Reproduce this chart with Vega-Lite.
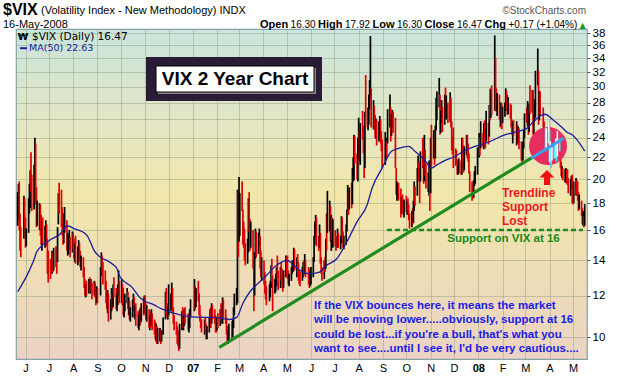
{
"$schema":"https://vega.github.io/schema/vega-lite/v6.json",
"width":571,"height":330,
"autosize":{"type":"none"},
"padding":{"left":16,"top":29,"right":33,"bottom":17},
"background":"white",
"config":{"font":"Liberation Sans","axis":{"title":null},
"view":{"stroke":"#86a2a6","strokeWidth":1.2,"fill":{"gradient":"linear","x1":0,"y1":0,"x2":0,"y2":1,"stops":[{"offset":0,"color":"#c9e5dd"},{"offset":0.28,"color":"#e3e6c4"},{"offset":0.5,"color":"#f2e7aa"},{"offset":0.75,"color":"#eedcb6"},{"offset":1,"color":"#ebd3c4"}]}}},
"datasets":{
"bars":[
{"d":"2006-05-22","h":18.9,"l":16.3,"c":17.6},{"d":"2006-05-23","h":19.6,"l":16.7,"c":18.6},{"d":"2006-05-24","h":19.8,"l":16.0,"c":16.4},{"d":"2006-05-25","h":17.2,"l":14.6,"c":15.2},{"d":"2006-05-26","h":16.2,"l":14.2,"c":14.5},{"d":"2006-05-30","h":18.6,"l":15.4,"c":18.1},{"d":"2006-05-31","h":18.4,"l":16.2,"c":16.4},
{"d":"2006-06-01","h":16.9,"l":14.8,"c":15.2},{"d":"2006-06-02","h":16.1,"l":14.9,"c":15.9},{"d":"2006-06-05","h":18.4,"l":15.8,"c":17.9},{"d":"2006-06-06","h":19.6,"l":17.2,"c":18.4},{"d":"2006-06-07","h":20.8,"l":17.6,"c":20.1},{"d":"2006-06-08","h":22.5,"l":18.9,"c":19.3},{"d":"2006-06-09","h":20.4,"l":17.4,"c":17.8},{"d":"2006-06-12","h":21.3,"l":17.5,"c":21.1},{"d":"2006-06-13","h":24.0,"l":20.2,"c":23.1},{"d":"2006-06-14","h":23.4,"l":17.9,"c":18.9},{"d":"2006-06-15","h":19.3,"l":16.2,"c":16.6},{"d":"2006-06-16","h":18.2,"l":16.3,"c":17.3},{"d":"2006-06-19","h":18.0,"l":16.0,"c":17.6},{"d":"2006-06-20","h":17.9,"l":15.6,"c":16.0},{"d":"2006-06-21","h":17.1,"l":15.0,"c":15.4},{"d":"2006-06-22","h":16.7,"l":14.6,"c":16.2},{"d":"2006-06-23","h":16.9,"l":15.1,"c":15.6},{"d":"2006-06-26","h":16.3,"l":14.8,"c":15.9},{"d":"2006-06-27","h":16.7,"l":15.2,"c":16.5},{"d":"2006-06-28","h":16.4,"l":14.9,"c":15.1},{"d":"2006-06-29","h":15.4,"l":13.2,"c":13.3},{"d":"2006-06-30","h":14.6,"l":12.7,"c":13.1},
{"d":"2006-07-03","h":14.1,"l":12.9,"c":13.0},{"d":"2006-07-05","h":14.6,"l":13.2,"c":14.3},{"d":"2006-07-06","h":14.5,"l":13.3,"c":13.8},{"d":"2006-07-07","h":14.8,"l":13.4,"c":14.6},{"d":"2006-07-10","h":14.9,"l":13.6,"c":14.0},{"d":"2006-07-11","h":14.6,"l":13.2,"c":13.7},{"d":"2006-07-12","h":16.2,"l":13.9,"c":15.9},{"d":"2006-07-13","h":18.8,"l":16.4,"c":18.1},{"d":"2006-07-14","h":19.7,"l":17.2,"c":17.5},{"d":"2006-07-17","h":19.1,"l":16.2,"c":16.5},{"d":"2006-07-18","h":17.7,"l":15.6,"c":16.4},{"d":"2006-07-19","h":16.8,"l":15.0,"c":15.4},{"d":"2006-07-20","h":17.2,"l":15.1,"c":16.8},{"d":"2006-07-21","h":17.7,"l":15.8,"c":17.2},{"d":"2006-07-24","h":16.7,"l":14.6,"c":14.9},{"d":"2006-07-25","h":15.8,"l":14.3,"c":15.1},{"d":"2006-07-26","h":15.6,"l":14.4,"c":15.2},{"d":"2006-07-27","h":16.0,"l":14.7,"c":15.7},{"d":"2006-07-28","h":15.5,"l":14.2,"c":14.4},{"d":"2006-07-31","h":15.9,"l":14.5,"c":15.3},
{"d":"2006-08-01","h":15.8,"l":14.7,"c":15.0},{"d":"2006-08-02","h":15.4,"l":14.1,"c":14.3},{"d":"2006-08-03","h":15.1,"l":13.9,"c":14.7},{"d":"2006-08-04","h":15.6,"l":13.8,"c":14.0},{"d":"2006-08-07","h":14.9,"l":13.7,"c":14.6},{"d":"2006-08-08","h":15.3,"l":14.0,"c":14.9},{"d":"2006-08-09","h":15.1,"l":13.9,"c":14.2},{"d":"2006-08-10","h":14.6,"l":13.6,"c":13.8},{"d":"2006-08-11","h":14.3,"l":13.4,"c":14.0},{"d":"2006-08-14","h":14.2,"l":13.0,"c":13.2},{"d":"2006-08-15","h":13.6,"l":12.4,"c":12.6},{"d":"2006-08-16","h":12.9,"l":12.0,"c":12.2},{"d":"2006-08-17","h":12.6,"l":11.9,"c":12.4},{"d":"2006-08-18","h":12.8,"l":12.0,"c":12.1},{"d":"2006-08-21","h":12.9,"l":12.1,"c":12.7},{"d":"2006-08-22","h":13.0,"l":12.3,"c":12.5},{"d":"2006-08-23","h":12.9,"l":12.1,"c":12.8},{"d":"2006-08-24","h":12.9,"l":12.2,"c":12.3},{"d":"2006-08-25","h":12.7,"l":11.8,"c":12.0},{"d":"2006-08-28","h":12.8,"l":12.0,"c":12.6},{"d":"2006-08-29","h":12.7,"l":11.9,"c":12.1},{"d":"2006-08-30","h":12.3,"l":11.5,"c":11.7},{"d":"2006-08-31","h":12.5,"l":11.6,"c":12.3},
{"d":"2006-09-01","h":12.4,"l":11.6,"c":11.9},{"d":"2006-09-05","h":13.6,"l":12.0,"c":13.4},{"d":"2006-09-06","h":14.5,"l":13.1,"c":14.2},{"d":"2006-09-07","h":14.3,"l":13.2,"c":13.6},{"d":"2006-09-08","h":13.9,"l":12.6,"c":12.8},{"d":"2006-09-11","h":13.4,"l":12.3,"c":12.5},{"d":"2006-09-12","h":12.8,"l":11.6,"c":11.8},{"d":"2006-09-13","h":12.2,"l":11.3,"c":11.5},{"d":"2006-09-14","h":12.3,"l":11.1,"c":12.0},{"d":"2006-09-15","h":12.1,"l":10.7,"c":11.0},{"d":"2006-09-18","h":11.8,"l":10.8,"c":11.6},{"d":"2006-09-19","h":12.4,"l":11.2,"c":12.2},{"d":"2006-09-20","h":12.1,"l":11.3,"c":11.4},{"d":"2006-09-21","h":12.6,"l":11.4,"c":12.5},{"d":"2006-09-22","h":13.0,"l":11.9,"c":12.2},{"d":"2006-09-25","h":12.4,"l":11.3,"c":11.5},{"d":"2006-09-26","h":12.1,"l":11.2,"c":11.9},{"d":"2006-09-27","h":12.6,"l":11.5,"c":12.3},{"d":"2006-09-28","h":13.4,"l":12.0,"c":12.5},{"d":"2006-09-29","h":12.8,"l":11.6,"c":11.8},
{"d":"2006-10-02","h":12.9,"l":11.6,"c":12.7},{"d":"2006-10-03","h":12.6,"l":11.5,"c":11.7},{"d":"2006-10-04","h":12.4,"l":11.0,"c":11.2},{"d":"2006-10-05","h":11.6,"l":10.9,"c":11.4},{"d":"2006-10-06","h":12.1,"l":11.2,"c":11.9},{"d":"2006-10-09","h":12.4,"l":11.6,"c":12.0},{"d":"2006-10-10","h":12.2,"l":11.3,"c":11.5},{"d":"2006-10-11","h":11.9,"l":11.0,"c":11.8},{"d":"2006-10-12","h":11.7,"l":10.8,"c":11.0},{"d":"2006-10-13","h":11.4,"l":10.7,"c":11.1},{"d":"2006-10-16","h":11.8,"l":10.9,"c":11.6},{"d":"2006-10-17","h":12.1,"l":11.2,"c":11.9},{"d":"2006-10-18","h":11.9,"l":10.9,"c":11.2},{"d":"2006-10-19","h":11.5,"l":10.8,"c":11.3},{"d":"2006-10-20","h":11.6,"l":10.5,"c":10.9},{"d":"2006-10-23","h":11.2,"l":10.4,"c":10.6},{"d":"2006-10-24","h":11.0,"l":10.3,"c":10.8},{"d":"2006-10-25","h":11.3,"l":10.5,"c":11.1},{"d":"2006-10-26","h":11.4,"l":10.6,"c":10.8},{"d":"2006-10-27","h":11.6,"l":10.7,"c":11.5},{"d":"2006-10-30","h":11.9,"l":11.0,"c":11.3},{"d":"2006-10-31","h":12.0,"l":11.1,"c":11.6},
{"d":"2006-11-01","h":12.0,"l":11.0,"c":11.3},{"d":"2006-11-02","h":11.6,"l":10.8,"c":11.0},{"d":"2006-11-03","h":11.5,"l":10.7,"c":11.4},{"d":"2006-11-06","h":11.3,"l":10.4,"c":10.6},{"d":"2006-11-07","h":11.0,"l":10.3,"c":10.9},{"d":"2006-11-08","h":11.2,"l":10.4,"c":10.5},{"d":"2006-11-09","h":11.3,"l":10.5,"c":11.1},{"d":"2006-11-10","h":11.1,"l":10.3,"c":10.4},{"d":"2006-11-13","h":10.8,"l":10.1,"c":10.3},{"d":"2006-11-14","h":10.7,"l":9.9,"c":10.0},{"d":"2006-11-15","h":10.6,"l":9.8,"c":10.2},{"d":"2006-11-16","h":10.5,"l":9.7,"c":9.9},{"d":"2006-11-17","h":10.4,"l":9.7,"c":10.0},{"d":"2006-11-20","h":10.4,"l":9.8,"c":10.1},{"d":"2006-11-21","h":10.3,"l":9.7,"c":9.9},{"d":"2006-11-22","h":10.3,"l":9.8,"c":10.2},{"d":"2006-11-24","h":10.9,"l":10.1,"c":10.7},{"d":"2006-11-27","h":12.2,"l":10.8,"c":12.0},{"d":"2006-11-28","h":12.4,"l":11.0,"c":11.3},{"d":"2006-11-29","h":11.6,"l":10.9,"c":11.0},{"d":"2006-11-30","h":11.4,"l":10.8,"c":11.0},
{"d":"2006-12-01","h":12.6,"l":11.0,"c":11.7},{"d":"2006-12-04","h":12.1,"l":11.2,"c":11.9},{"d":"2006-12-05","h":12.7,"l":11.3,"c":12.2},{"d":"2006-12-06","h":12.4,"l":11.1,"c":11.3},{"d":"2006-12-07","h":11.4,"l":10.6,"c":10.8},{"d":"2006-12-08","h":11.0,"l":10.3,"c":10.5},{"d":"2006-12-11","h":10.7,"l":10.1,"c":10.3},{"d":"2006-12-12","h":10.5,"l":9.7,"c":10.0},{"d":"2006-12-13","h":10.3,"l":9.6,"c":9.8},{"d":"2006-12-14","h":10.0,"l":9.4,"c":9.6},{"d":"2006-12-15","h":10.6,"l":9.5,"c":10.4},{"d":"2006-12-18","h":11.2,"l":10.3,"c":11.0},{"d":"2006-12-19","h":11.4,"l":10.4,"c":10.6},{"d":"2006-12-20","h":11.0,"l":10.3,"c":10.8},{"d":"2006-12-21","h":11.3,"l":10.5,"c":11.1},{"d":"2006-12-22","h":11.4,"l":10.6,"c":10.9},{"d":"2006-12-26","h":11.1,"l":10.3,"c":10.5},{"d":"2006-12-27","h":10.9,"l":10.2,"c":10.7},{"d":"2006-12-28","h":11.3,"l":10.4,"c":11.2},{"d":"2006-12-29","h":11.8,"l":10.9,"c":11.6},
{"d":"2007-01-03","h":12.9,"l":11.2,"c":12.0},{"d":"2007-01-04","h":12.5,"l":11.3,"c":11.5},{"d":"2007-01-05","h":12.4,"l":11.4,"c":12.1},{"d":"2007-01-08","h":12.8,"l":11.7,"c":12.0},{"d":"2007-01-09","h":12.1,"l":11.0,"c":11.3},{"d":"2007-01-10","h":11.5,"l":10.7,"c":10.9},{"d":"2007-01-11","h":11.0,"l":10.4,"c":10.6},{"d":"2007-01-12","h":10.8,"l":10.2,"c":10.4},{"d":"2007-01-16","h":10.8,"l":10.1,"c":10.7},{"d":"2007-01-17","h":10.9,"l":10.2,"c":10.4},{"d":"2007-01-18","h":10.6,"l":9.9,"c":10.2},{"d":"2007-01-19","h":10.5,"l":9.9,"c":10.4},{"d":"2007-01-22","h":10.9,"l":10.2,"c":10.6},{"d":"2007-01-23","h":11.3,"l":10.5,"c":11.0},{"d":"2007-01-24","h":11.4,"l":10.4,"c":10.6},{"d":"2007-01-25","h":11.6,"l":10.6,"c":11.4},{"d":"2007-01-26","h":11.5,"l":10.8,"c":11.0},{"d":"2007-01-29","h":11.3,"l":10.6,"c":10.9},{"d":"2007-01-30","h":11.0,"l":10.2,"c":10.5},{"d":"2007-01-31","h":10.9,"l":10.2,"c":10.4},
{"d":"2007-02-01","h":10.9,"l":10.3,"c":10.8},{"d":"2007-02-02","h":11.1,"l":10.4,"c":10.6},{"d":"2007-02-05","h":11.3,"l":10.5,"c":11.1},{"d":"2007-02-06","h":11.6,"l":10.8,"c":11.0},{"d":"2007-02-07","h":11.4,"l":10.6,"c":10.7},{"d":"2007-02-08","h":11.9,"l":10.6,"c":11.6},{"d":"2007-02-09","h":11.8,"l":10.9,"c":11.1},{"d":"2007-02-12","h":11.3,"l":10.6,"c":10.8},{"d":"2007-02-13","h":10.9,"l":10.1,"c":10.3},{"d":"2007-02-14","h":10.5,"l":9.8,"c":10.0},{"d":"2007-02-15","h":10.3,"l":9.7,"c":10.1},{"d":"2007-02-16","h":10.6,"l":9.9,"c":10.4},{"d":"2007-02-20","h":10.7,"l":9.9,"c":10.2},{"d":"2007-02-21","h":10.8,"l":10.0,"c":10.6},{"d":"2007-02-22","h":11.4,"l":10.4,"c":11.2},{"d":"2007-02-23","h":12.1,"l":11.0,"c":11.9},{"d":"2007-02-26","h":12.4,"l":11.5,"c":12.0},{"d":"2007-02-27","h":19.1,"l":11.6,"c":18.3},{"d":"2007-02-28","h":18.9,"l":14.2,"c":15.4},
{"d":"2007-03-01","h":20.2,"l":15.2,"c":16.0},{"d":"2007-03-02","h":18.8,"l":15.6,"c":18.6},{"d":"2007-03-05","h":19.8,"l":17.4,"c":18.0},{"d":"2007-03-06","h":17.5,"l":15.0,"c":15.7},{"d":"2007-03-07","h":16.6,"l":14.8,"c":15.3},{"d":"2007-03-08","h":16.1,"l":14.0,"c":14.1},{"d":"2007-03-09","h":15.1,"l":13.7,"c":14.0},{"d":"2007-03-12","h":15.4,"l":13.8,"c":14.7},{"d":"2007-03-13","h":18.4,"l":14.5,"c":17.9},{"d":"2007-03-14","h":18.9,"l":15.9,"c":16.4},{"d":"2007-03-15","h":16.8,"l":14.6,"c":15.2},{"d":"2007-03-16","h":16.6,"l":14.8,"c":16.2},{"d":"2007-03-19","h":16.0,"l":13.5,"c":13.8},{"d":"2007-03-20","h":13.8,"l":11.2,"c":12.2},{"d":"2007-03-21","h":14.5,"l":12.0,"c":14.2},{"d":"2007-03-22","h":16.1,"l":14.1,"c":15.6},{"d":"2007-03-23","h":15.9,"l":14.2,"c":14.9},{"d":"2007-03-26","h":15.8,"l":14.4,"c":15.4},{"d":"2007-03-27","h":16.1,"l":14.9,"c":15.8},{"d":"2007-03-28","h":15.6,"l":13.5,"c":13.9},{"d":"2007-03-29","h":14.6,"l":13.0,"c":13.4},{"d":"2007-03-30","h":14.2,"l":12.8,"c":13.6},
{"d":"2007-04-02","h":14.0,"l":12.6,"c":12.8},{"d":"2007-04-03","h":13.3,"l":12.1,"c":12.4},{"d":"2007-04-04","h":12.8,"l":11.8,"c":12.0},{"d":"2007-04-05","h":12.5,"l":11.5,"c":11.9},{"d":"2007-04-09","h":12.6,"l":11.7,"c":12.1},{"d":"2007-04-10","h":12.8,"l":11.9,"c":12.6},{"d":"2007-04-11","h":13.7,"l":12.4,"c":13.5},{"d":"2007-04-12","h":14.1,"l":12.7,"c":12.9},{"d":"2007-04-13","h":13.1,"l":11.2,"c":12.4},{"d":"2007-04-16","h":12.9,"l":12.1,"c":12.6},{"d":"2007-04-17","h":13.2,"l":12.2,"c":12.9},{"d":"2007-04-18","h":13.6,"l":12.5,"c":13.3},{"d":"2007-04-19","h":14.3,"l":13.0,"c":13.2},{"d":"2007-04-20","h":13.4,"l":12.3,"c":12.5},{"d":"2007-04-23","h":13.6,"l":12.4,"c":13.4},{"d":"2007-04-24","h":13.9,"l":12.8,"c":13.1},{"d":"2007-04-25","h":13.5,"l":12.4,"c":12.7},{"d":"2007-04-26","h":13.2,"l":12.2,"c":12.5},{"d":"2007-04-27","h":13.4,"l":12.4,"c":13.2},{"d":"2007-04-30","h":14.3,"l":13.0,"c":14.2},
{"d":"2007-05-01","h":14.2,"l":13.0,"c":13.9},{"d":"2007-05-02","h":14.3,"l":12.9,"c":13.1},{"d":"2007-05-03","h":13.4,"l":12.6,"c":12.9},{"d":"2007-05-04","h":13.2,"l":12.5,"c":12.9},{"d":"2007-05-07","h":13.6,"l":12.8,"c":13.3},{"d":"2007-05-08","h":14.0,"l":13.2,"c":13.5},{"d":"2007-05-09","h":13.9,"l":13.3,"c":13.6},{"d":"2007-05-10","h":14.8,"l":13.4,"c":14.6},{"d":"2007-05-11","h":14.7,"l":13.4,"c":13.5},{"d":"2007-05-14","h":14.2,"l":13.0,"c":13.9},{"d":"2007-05-15","h":14.4,"l":13.3,"c":13.7},{"d":"2007-05-16","h":13.9,"l":12.8,"c":13.0},{"d":"2007-05-17","h":13.4,"l":12.6,"c":12.9},{"d":"2007-05-18","h":13.3,"l":12.5,"c":12.7},{"d":"2007-05-21","h":13.6,"l":12.8,"c":13.4},{"d":"2007-05-22","h":13.9,"l":13.0,"c":13.6},{"d":"2007-05-23","h":14.0,"l":13.1,"c":13.3},{"d":"2007-05-24","h":14.4,"l":13.2,"c":14.0},{"d":"2007-05-25","h":14.0,"l":13.0,"c":13.2},{"d":"2007-05-29","h":13.6,"l":12.6,"c":12.8},{"d":"2007-05-30","h":13.5,"l":12.4,"c":12.7},{"d":"2007-05-31","h":13.3,"l":12.5,"c":13.1},
{"d":"2007-06-01","h":13.6,"l":12.6,"c":13.1},{"d":"2007-06-04","h":14.2,"l":13.0,"c":13.9},{"d":"2007-06-05","h":15.6,"l":13.9,"c":15.4},{"d":"2007-06-06","h":16.6,"l":15.0,"c":16.4},{"d":"2007-06-07","h":17.1,"l":15.6,"c":16.8},{"d":"2007-06-08","h":16.9,"l":14.9,"c":15.2},{"d":"2007-06-11","h":15.6,"l":14.6,"c":15.0},{"d":"2007-06-12","h":16.4,"l":14.8,"c":16.0},{"d":"2007-06-13","h":15.8,"l":13.8,"c":14.0},{"d":"2007-06-14","h":14.2,"l":13.2,"c":13.4},{"d":"2007-06-15","h":13.6,"l":12.8,"c":13.0},{"d":"2007-06-18","h":14.0,"l":12.9,"c":13.7},{"d":"2007-06-19","h":14.2,"l":13.3,"c":13.5},{"d":"2007-06-20","h":15.4,"l":13.5,"c":15.2},{"d":"2007-06-21","h":17.2,"l":14.6,"c":15.0},{"d":"2007-06-22","h":19.0,"l":15.8,"c":16.7},{"d":"2007-06-25","h":18.2,"l":15.9,"c":17.5},{"d":"2007-06-26","h":17.8,"l":15.2,"c":15.6},{"d":"2007-06-27","h":17.1,"l":14.6,"c":16.9},{"d":"2007-06-28","h":16.9,"l":15.3,"c":15.6},{"d":"2007-06-29","h":16.8,"l":14.8,"c":16.2},
{"d":"2007-07-02","h":16.0,"l":14.9,"c":15.2},{"d":"2007-07-03","h":15.6,"l":14.6,"c":15.1},{"d":"2007-07-05","h":16.1,"l":14.8,"c":15.8},{"d":"2007-07-06","h":15.8,"l":14.8,"c":15.0},{"d":"2007-07-09","h":15.6,"l":14.7,"c":15.3},{"d":"2007-07-10","h":17.0,"l":15.1,"c":16.6},{"d":"2007-07-11","h":16.9,"l":15.4,"c":15.6},{"d":"2007-07-12","h":15.9,"l":14.8,"c":15.0},{"d":"2007-07-13","h":15.6,"l":14.7,"c":15.1},{"d":"2007-07-16","h":16.4,"l":15.0,"c":16.0},{"d":"2007-07-17","h":17.5,"l":15.9,"c":17.4},{"d":"2007-07-18","h":19.5,"l":17.4,"c":18.4},{"d":"2007-07-19","h":18.8,"l":17.1,"c":17.6},{"d":"2007-07-20","h":19.3,"l":17.5,"c":19.0},{"d":"2007-07-23","h":19.7,"l":17.6,"c":18.0},{"d":"2007-07-24","h":21.0,"l":17.9,"c":20.7},{"d":"2007-07-25","h":22.0,"l":19.8,"c":21.2},{"d":"2007-07-26","h":24.3,"l":19.9,"c":23.5},{"d":"2007-07-27","h":24.2,"l":21.4,"c":22.0},{"d":"2007-07-30","h":22.4,"l":20.0,"c":20.5},{"d":"2007-07-31","h":24.0,"l":19.8,"c":23.6},
{"d":"2007-08-01","h":26.2,"l":21.8,"c":23.7},{"d":"2007-08-02","h":24.8,"l":21.6,"c":22.1},{"d":"2007-08-03","h":25.6,"l":21.3,"c":25.2},{"d":"2007-08-06","h":27.0,"l":23.8,"c":24.2},{"d":"2007-08-07","h":25.3,"l":22.4,"c":23.4},{"d":"2007-08-08","h":23.6,"l":20.1,"c":20.8},{"d":"2007-08-09","h":26.9,"l":21.0,"c":26.5},{"d":"2007-08-10","h":31.6,"l":25.1,"c":25.6},{"d":"2007-08-13","h":27.4,"l":24.8,"c":25.9},{"d":"2007-08-14","h":29.0,"l":25.4,"c":28.6},{"d":"2007-08-15","h":30.9,"l":27.2,"c":29.0},{"d":"2007-08-16","h":37.5,"l":28.6,"c":30.7},{"d":"2007-08-17","h":29.8,"l":25.1,"c":25.5},{"d":"2007-08-20","h":28.3,"l":24.9,"c":27.0},{"d":"2007-08-21","h":27.6,"l":24.8,"c":25.1},{"d":"2007-08-22","h":26.5,"l":24.0,"c":24.4},{"d":"2007-08-23","h":26.1,"l":23.9,"c":25.6},{"d":"2007-08-24","h":25.9,"l":23.2,"c":23.8},{"d":"2007-08-27","h":25.8,"l":23.6,"c":25.0},{"d":"2007-08-28","h":26.4,"l":24.1,"c":26.2},{"d":"2007-08-29","h":26.0,"l":23.4,"c":23.6},{"d":"2007-08-30","h":24.7,"l":22.6,"c":23.5},{"d":"2007-08-31","h":23.8,"l":21.0,"c":21.4},
{"d":"2007-09-04","h":24.6,"l":21.3,"c":21.8},{"d":"2007-09-05","h":24.0,"l":21.7,"c":23.3},{"d":"2007-09-06","h":23.6,"l":21.9,"c":22.5},{"d":"2007-09-07","h":27.2,"l":23.4,"c":26.2},{"d":"2007-09-10","h":29.0,"l":25.1,"c":26.6},{"d":"2007-09-11","h":27.4,"l":23.6,"c":24.0},{"d":"2007-09-12","h":26.6,"l":24.2,"c":25.8},{"d":"2007-09-13","h":27.1,"l":25.0,"c":26.7},{"d":"2007-09-14","h":26.9,"l":24.5,"c":25.0},{"d":"2007-09-17","h":26.2,"l":21.0,"c":21.4},{"d":"2007-09-18","h":21.0,"l":18.7,"c":19.0},{"d":"2007-09-19","h":19.8,"l":18.2,"c":19.4},{"d":"2007-09-20","h":19.6,"l":18.3,"c":19.5},{"d":"2007-09-21","h":19.7,"l":18.2,"c":18.9},{"d":"2007-09-24","h":19.2,"l":16.9,"c":17.3},{"d":"2007-09-25","h":18.5,"l":17.2,"c":18.1},{"d":"2007-09-26","h":18.7,"l":17.3,"c":17.6},{"d":"2007-09-27","h":18.2,"l":17.1,"c":17.4},{"d":"2007-09-28","h":18.3,"l":16.9,"c":18.0},
{"d":"2007-10-01","h":18.6,"l":17.3,"c":17.5},{"d":"2007-10-02","h":18.2,"l":17.1,"c":17.9},{"d":"2007-10-03","h":18.4,"l":17.3,"c":17.8},{"d":"2007-10-04","h":17.9,"l":16.7,"c":16.9},{"d":"2007-10-05","h":17.2,"l":16.1,"c":16.5},{"d":"2007-10-08","h":17.4,"l":16.2,"c":17.1},{"d":"2007-10-09","h":17.6,"l":16.4,"c":16.6},{"d":"2007-10-10","h":18.2,"l":16.5,"c":17.9},{"d":"2007-10-11","h":19.8,"l":17.4,"c":19.2},{"d":"2007-10-12","h":19.4,"l":17.8,"c":18.6},{"d":"2007-10-15","h":21.0,"l":18.6,"c":20.6},{"d":"2007-10-16","h":22.2,"l":19.9,"c":21.4},{"d":"2007-10-17","h":21.6,"l":19.8,"c":20.2},{"d":"2007-10-18","h":21.0,"l":18.0,"c":18.8},{"d":"2007-10-19","h":22.6,"l":19.8,"c":22.3},{"d":"2007-10-22","h":24.0,"l":21.0,"c":21.6},{"d":"2007-10-23","h":22.4,"l":19.6,"c":20.0},{"d":"2007-10-24","h":24.3,"l":19.8,"c":21.2},{"d":"2007-10-25","h":22.8,"l":20.3,"c":21.0},{"d":"2007-10-26","h":21.4,"l":19.2,"c":19.6},{"d":"2007-10-29","h":20.6,"l":18.9,"c":19.8},{"d":"2007-10-30","h":21.7,"l":18.6,"c":20.9},{"d":"2007-10-31","h":21.0,"l":17.4,"c":18.5},
{"d":"2007-11-01","h":24.0,"l":18.8,"c":23.2},{"d":"2007-11-02","h":25.4,"l":21.0,"c":23.0},{"d":"2007-11-05","h":24.8,"l":21.9,"c":23.9},{"d":"2007-11-06","h":23.8,"l":21.3,"c":21.9},{"d":"2007-11-07","h":25.3,"l":21.9,"c":25.0},{"d":"2007-11-08","h":28.6,"l":24.8,"c":26.5},{"d":"2007-11-09","h":29.4,"l":25.9,"c":28.5},{"d":"2007-11-12","h":31.2,"l":27.4,"c":28.8},{"d":"2007-11-13","h":29.0,"l":24.3,"c":24.9},{"d":"2007-11-14","h":27.0,"l":24.5,"c":26.1},{"d":"2007-11-15","h":28.3,"l":25.6,"c":27.4},{"d":"2007-11-16","h":27.5,"l":24.6,"c":25.5},{"d":"2007-11-19","h":29.0,"l":25.4,"c":28.7},{"d":"2007-11-20","h":29.9,"l":26.2,"c":26.8},{"d":"2007-11-21","h":28.9,"l":26.0,"c":28.2},{"d":"2007-11-23","h":28.0,"l":25.6,"c":25.8},{"d":"2007-11-26","h":29.3,"l":25.7,"c":28.9},{"d":"2007-11-27","h":28.6,"l":25.1,"c":25.9},{"d":"2007-11-28","h":25.8,"l":22.7,"c":23.1},{"d":"2007-11-29","h":24.2,"l":22.3,"c":22.9},{"d":"2007-11-30","h":25.1,"l":21.0,"c":22.8},
{"d":"2007-12-03","h":22.9,"l":21.2,"c":22.6},{"d":"2007-12-04","h":22.7,"l":21.3,"c":21.6},{"d":"2007-12-05","h":21.8,"l":20.4,"c":20.6},{"d":"2007-12-06","h":21.2,"l":20.4,"c":20.9},{"d":"2007-12-07","h":21.9,"l":20.5,"c":21.4},{"d":"2007-12-10","h":21.7,"l":20.4,"c":20.6},{"d":"2007-12-11","h":24.0,"l":20.4,"c":23.9},{"d":"2007-12-12","h":24.0,"l":21.6,"c":22.0},{"d":"2007-12-13","h":23.2,"l":20.6,"c":21.0},{"d":"2007-12-14","h":23.1,"l":20.8,"c":22.9},{"d":"2007-12-17","h":24.3,"l":22.2,"c":24.1},{"d":"2007-12-18","h":24.3,"l":21.9,"c":22.6},{"d":"2007-12-19","h":23.4,"l":21.6,"c":22.0},{"d":"2007-12-20","h":22.4,"l":20.5,"c":20.7},{"d":"2007-12-21","h":20.7,"l":18.9,"c":19.0},{"d":"2007-12-24","h":19.8,"l":18.2,"c":18.5},{"d":"2007-12-26","h":19.9,"l":18.4,"c":19.6},{"d":"2007-12-27","h":20.7,"l":19.4,"c":20.3},{"d":"2007-12-28","h":21.2,"l":19.6,"c":20.7},{"d":"2007-12-31","h":23.0,"l":20.4,"c":22.5},
{"d":"2008-01-02","h":24.5,"l":22.0,"c":23.2},{"d":"2008-01-03","h":24.0,"l":22.2,"c":22.5},{"d":"2008-01-04","h":25.8,"l":22.9,"c":23.9},{"d":"2008-01-07","h":24.5,"l":23.0,"c":23.6},{"d":"2008-01-08","h":25.6,"l":22.8,"c":25.4},{"d":"2008-01-09","h":25.9,"l":23.2,"c":24.1},{"d":"2008-01-10","h":25.0,"l":22.9,"c":23.5},{"d":"2008-01-11","h":27.0,"l":23.6,"c":23.7},{"d":"2008-01-14","h":25.6,"l":23.3,"c":23.4},{"d":"2008-01-15","h":27.7,"l":24.1,"c":27.3},{"d":"2008-01-16","h":29.8,"l":25.9,"c":26.3},{"d":"2008-01-17","h":29.6,"l":26.2,"c":29.0},{"d":"2008-01-18","h":30.2,"l":26.5,"c":27.2},{"d":"2008-01-22","h":37.6,"l":27.0,"c":31.0},{"d":"2008-01-23","h":34.1,"l":27.0,"c":29.0},{"d":"2008-01-24","h":29.8,"l":26.9,"c":27.3},{"d":"2008-01-25","h":29.2,"l":26.4,"c":28.5},{"d":"2008-01-28","h":29.0,"l":26.0,"c":26.5},{"d":"2008-01-29","h":27.7,"l":25.1,"c":25.5},{"d":"2008-01-30","h":28.0,"l":25.3,"c":26.2},{"d":"2008-01-31","h":27.9,"l":24.9,"c":25.2},
{"d":"2008-02-01","h":27.5,"l":25.6,"c":26.9},{"d":"2008-02-04","h":28.0,"l":26.3,"c":27.6},{"d":"2008-02-05","h":29.8,"l":27.0,"c":28.9},{"d":"2008-02-06","h":29.5,"l":27.2,"c":28.4},{"d":"2008-02-07","h":29.0,"l":26.5,"c":27.0},{"d":"2008-02-08","h":28.7,"l":26.6,"c":28.0},{"d":"2008-02-11","h":27.9,"l":26.1,"c":26.4},{"d":"2008-02-12","h":27.7,"l":25.1,"c":25.5},{"d":"2008-02-13","h":26.0,"l":24.3,"c":24.6},{"d":"2008-02-14","h":25.8,"l":23.4,"c":25.5},{"d":"2008-02-15","h":25.9,"l":24.2,"c":25.0},{"d":"2008-02-19","h":25.8,"l":23.2,"c":25.3},{"d":"2008-02-20","h":25.4,"l":23.5,"c":24.0},{"d":"2008-02-21","h":25.2,"l":23.4,"c":24.9},{"d":"2008-02-22","h":25.0,"l":22.8,"c":23.0},{"d":"2008-02-25","h":23.6,"l":21.7,"c":22.0},{"d":"2008-02-26","h":23.1,"l":21.5,"c":21.9},{"d":"2008-02-27","h":23.6,"l":21.7,"c":23.2},{"d":"2008-02-28","h":24.8,"l":22.9,"c":24.6},{"d":"2008-02-29","h":26.7,"l":24.0,"c":26.5},
{"d":"2008-03-03","h":27.4,"l":25.6,"c":26.0},{"d":"2008-03-04","h":28.2,"l":25.2,"c":26.7},{"d":"2008-03-05","h":27.0,"l":24.3,"c":24.9},{"d":"2008-03-06","h":27.9,"l":24.6,"c":27.5},{"d":"2008-03-07","h":30.2,"l":26.6,"c":27.3},{"d":"2008-03-10","h":29.6,"l":26.8,"c":29.4},{"d":"2008-03-11","h":29.6,"l":24.3,"c":25.0},{"d":"2008-03-12","h":26.6,"l":24.4,"c":26.0},{"d":"2008-03-13","h":28.4,"l":25.8,"c":26.8},{"d":"2008-03-14","h":32.2,"l":26.2,"c":31.2},{"d":"2008-03-17","h":35.5,"l":30.2,"c":32.2},{"d":"2008-03-18","h":32.2,"l":25.4,"c":25.8},{"d":"2008-03-19","h":29.5,"l":25.9,"c":29.0},{"d":"2008-03-20","h":29.4,"l":26.5,"c":26.6},{"d":"2008-03-24","h":27.4,"l":25.1,"c":25.3},{"d":"2008-03-25","h":25.8,"l":23.5,"c":24.0},{"d":"2008-03-26","h":25.1,"l":23.2,"c":24.8},{"d":"2008-03-27","h":25.1,"l":22.6,"c":23.4},{"d":"2008-03-28","h":25.0,"l":22.9,"c":24.6},{"d":"2008-03-31","h":25.8,"l":23.4,"c":25.6},
{"d":"2008-04-01","h":24.8,"l":21.6,"c":22.2},{"d":"2008-04-02","h":23.6,"l":21.5,"c":23.0},{"d":"2008-04-03","h":23.0,"l":21.0,"c":22.4},{"d":"2008-04-04","h":23.2,"l":21.7,"c":22.5},{"d":"2008-04-07","h":23.0,"l":21.9,"c":22.4},{"d":"2008-04-08","h":23.5,"l":21.9,"c":22.3},{"d":"2008-04-09","h":23.9,"l":22.0,"c":23.6},{"d":"2008-04-10","h":23.5,"l":21.6,"c":22.0},{"d":"2008-04-11","h":24.7,"l":22.1,"c":23.5},{"d":"2008-04-14","h":23.9,"l":22.6,"c":23.3},{"d":"2008-04-15","h":22.9,"l":21.0,"c":21.2},{"d":"2008-04-16","h":21.6,"l":20.3,"c":20.4},{"d":"2008-04-17","h":21.2,"l":20.1,"c":20.4},{"d":"2008-04-18","h":21.0,"l":19.9,"c":20.1},{"d":"2008-04-21","h":20.9,"l":19.7,"c":20.6},{"d":"2008-04-22","h":21.0,"l":19.9,"c":20.9},{"d":"2008-04-23","h":20.8,"l":19.6,"c":20.0},{"d":"2008-04-24","h":20.9,"l":19.5,"c":19.8},{"d":"2008-04-25","h":20.1,"l":18.8,"c":19.0},{"d":"2008-04-28","h":20.0,"l":18.6,"c":19.9},{"d":"2008-04-29","h":20.3,"l":19.1,"c":20.1},{"d":"2008-04-30","h":20.4,"l":18.0,"c":19.3},
{"d":"2008-05-01","h":19.7,"l":17.9,"c":18.2},{"d":"2008-05-02","h":19.8,"l":18.0,"c":18.6},{"d":"2008-05-05","h":20.1,"l":18.6,"c":19.7},{"d":"2008-05-06","h":19.9,"l":18.7,"c":19.0},{"d":"2008-05-07","h":19.8,"l":18.2,"c":18.4},{"d":"2008-05-08","h":18.9,"l":17.4,"c":17.8},{"d":"2008-05-09","h":18.7,"l":17.5,"c":18.5},{"d":"2008-05-12","h":18.2,"l":17.0,"c":17.2},{"d":"2008-05-13","h":17.6,"l":16.4,"c":16.6},{"d":"2008-05-14","h":17.4,"l":16.3,"c":16.8},{"d":"2008-05-15","h":17.0,"l":16.2,"c":16.3},{"d":"2008-05-16","h":17.92,"l":16.3,"c":16.47}
],
"ma":[
{"d":"2006-05-22","v":12.2},{"d":"2006-06-06","v":13.4},{"d":"2006-06-13","v":14.2},{"d":"2006-06-15","v":14.5},{"d":"2006-07-02","v":15.3},{"d":"2006-07-15","v":15.7},{"d":"2006-07-25","v":16.3},{"d":"2006-08-02","v":16.1},{"d":"2006-08-12","v":15.9},{"d":"2006-08-19","v":15.6},{"d":"2006-08-28","v":14.6},{"d":"2006-09-08","v":14.1},{"d":"2006-09-13","v":14.0},{"d":"2006-09-22","v":13.7},{"d":"2006-09-26","v":13.5},{"d":"2006-09-29","v":13.1},{"d":"2006-10-03","v":12.85},{"d":"2006-10-15","v":12.45},{"d":"2006-10-25","v":11.9},{"d":"2006-11-13","v":11.5},{"d":"2006-11-23","v":11.3},{"d":"2006-12-18","v":11.0},{"d":"2007-01-10","v":10.9},{"d":"2007-01-29","v":10.9},{"d":"2007-02-17","v":10.8},{"d":"2007-02-26","v":10.9},{"d":"2007-03-06","v":11.6},{"d":"2007-03-15","v":12.2},{"d":"2007-03-24","v":12.6},{"d":"2007-04-05","v":13.1},{"d":"2007-04-18","v":13.7},{"d":"2007-05-02","v":14.0},{"d":"2007-05-10","v":13.7},{"d":"2007-05-18","v":13.4},{"d":"2007-05-30","v":13.2},{"d":"2007-06-12","v":13.3},{"d":"2007-06-21","v":13.7},{"d":"2007-07-04","v":14.1},{"d":"2007-07-17","v":15.2},{"d":"2007-07-30","v":16.6},{"d":"2007-08-12","v":17.9},{"d":"2007-08-18","v":19.2},{"d":"2007-08-31","v":21.0},{"d":"2007-09-12","v":22.6},{"d":"2007-09-21","v":22.9},{"d":"2007-10-04","v":23.1},{"d":"2007-10-12","v":22.6},{"d":"2007-10-25","v":21.7},{"d":"2007-11-02","v":21.0},{"d":"2007-11-09","v":21.3},{"d":"2007-11-19","v":21.7},{"d":"2007-12-02","v":22.1},{"d":"2007-12-15","v":22.7},{"d":"2007-12-28","v":23.1},{"d":"2008-01-16","v":23.6},{"d":"2008-02-04","v":24.3},{"d":"2008-02-14","v":24.5},{"d":"2008-02-26","v":24.8},{"d":"2008-03-03","v":25.0},{"d":"2008-03-11","v":25.7},{"d":"2008-03-20","v":26.4},{"d":"2008-03-26","v":26.6},{"d":"2008-04-05","v":26.0},{"d":"2008-04-17","v":25.1},{"d":"2008-04-23","v":24.6},{"d":"2008-04-30","v":24.3},{"d":"2008-05-06","v":23.8},{"d":"2008-05-16","v":22.63}
]},
"layer":[
{"data":{"name":"bars"},
 "transform":[{"window":[{"op":"lag","field":"c","as":"pc"}],"sort":[{"field":"d","order":"ascending"}]}],
 "mark":{"type":"rule","strokeWidth":1.7},
 "encoding":{
  "x":{"field":"d","type":"temporal","scale":{"type":"utc","domain":[{"year":2006,"month":5,"date":19,"hours":20,"minutes":24,"utc":true},{"year":2008,"month":5,"date":18,"hours":22,"minutes":30,"utc":true}],"nice":false},
   "axis":{"orient":"bottom","title":null,"tickCount":{"interval":"month","step":1},"grid":true,"gridColor":"#8e9c80","gridOpacity":0.45,"ticks":false,"domain":false,"labelPadding":3,"labelFontSize":11,"labelColor":"#000000","labelOverlap":false,"labelFlush":false,
    "labelExpr":"utcmonth(datum.value)==0 ? utcFormat(datum.value,'%y') : slice(utcFormat(datum.value,'%b'),0,1)",
    "labelFontWeight":{"condition":{"test":"utcmonth(datum.value)==0","value":"bold"},"value":"normal"}}},
  "y":{"field":"l","type":"quantitative","scale":{"type":"log","domain":[9.08,38.68],"nice":false},
   "axis":{"orient":"right","title":null,"values":[10,12,14,16,18,20,22,24,26,28,30,32,34,36,38],"format":"d","grid":true,"gridColor":"#8e9c80","gridOpacity":0.45,"tickSize":3,"tickColor":"#555555","domain":false,"labelPadding":2,"labelFontSize":11.5,"labelColor":"#000000"}},
  "y2":{"field":"h"},
  "color":{"condition":{"test":"datum.pc == null || datum.c >= datum.pc","value":"#000000"},"value":"#e00000"}}},
{"data":{"name":"ma"},
 "mark":{"type":"line","color":"#1c1c9c","strokeWidth":1.3,"interpolate":"monotone"},
 "encoding":{"x":{"field":"d","type":"temporal"},"y":{"field":"v","type":"quantitative"}}},
{"data":{"values":[{"d":"2007-02-03T19:00:00Z","v":9.56},{"d":"2008-03-11T07:00:00Z","v":22.07}]},
 "mark":{"type":"line","color":"#1e8c1e","strokeWidth":3.2},
 "encoding":{"x":{"field":"d","type":"temporal"},"y":{"field":"v","type":"quantitative"}}},
{"data":{"values":[{"d":"2007-09-06T05:00:00Z","d2":"2008-05-13T19:00:00Z","v":16}]},
 "mark":{"type":"rule","color":"#1e8c1e","strokeWidth":2.4,"strokeDash":[5,3]},
 "encoding":{"x":{"field":"d","type":"temporal"},"x2":{"field":"d2"},"y":{"field":"v","type":"quantitative"}}},
{"data":{"values":[{"d":"2008-03-30T02:00:00Z","v":23.13}]},
 "mark":{"type":"point","shape":"circle","filled":true,"size":1444,"color":"#e8245c","opacity":0.95},
 "encoding":{"x":{"field":"d","type":"temporal"},"y":{"field":"v","type":"quantitative"}}},
{"data":{"name":"bars"},
 "transform":[{"window":[{"op":"lag","field":"c","as":"pc"}],"sort":[{"field":"d","order":"ascending"}]},{"filter":"toDate(datum.d) >= utc(2008,2,27) && toDate(datum.d) <= utc(2008,3,14)"}],
 "mark":{"type":"rule","strokeWidth":1.7},
 "encoding":{"x":{"field":"d","type":"temporal"},"y":{"field":"l","type":"quantitative"},"y2":{"field":"h"},
  "color":{"condition":{"test":"datum.pc == null || datum.c >= datum.pc","value":"#ffffff"},"value":"#40f0ff"}}},
{"data":{"values":[{"d":"2008-03-08T10:00:00Z","v":21.92},{"d":"2008-04-19T04:00:00Z","v":23.94}]},
 "mark":{"type":"line","color":"#3aa0f0","strokeWidth":3},
 "encoding":{"x":{"field":"d","type":"temporal"},"y":{"field":"v","type":"quantitative"}}},
{"data":{"values":[{"d":"2008-03-28T19:00:00Z","v":20.14}]},
 "mark":{"type":"point","shape":"M0,-1L1,0L0.4,0L0.4,1L-0.4,1L-0.4,0L-1,0Z","filled":true,"size":225,"color":"#ee1111","opacity":1},
 "encoding":{"x":{"field":"d","type":"temporal"},"y":{"field":"v","type":"quantitative"}}},
{"data":{"values":[{"d":"2006-11-02T02:00:00Z","d2":"2007-06-15T02:00:00Z","v":34.2,"v2":28.19}]},
 "mark":{"type":"rect","color":"#2a1b36"},
 "encoding":{"x":{"field":"d","type":"temporal"},"x2":{"field":"d2"},"y":{"field":"v","type":"quantitative"},"y2":{"field":"v2"}}},
{"data":{"values":[{"d":"2006-11-17T10:00:00Z","d2":"2007-06-07T10:00:00Z","v":32.6,"v2":29.07}]},
 "mark":{"type":"rect","color":"#8a8a8a"},
 "encoding":{"x":{"field":"d","type":"temporal"},"x2":{"field":"d2"},"y":{"field":"v","type":"quantitative"},"y2":{"field":"v2"}}},
{"data":{"values":[{"d":"2006-11-14T21:00:00Z","d2":"2007-06-04T21:00:00Z","v":32.88,"v2":29.33}]},
 "mark":{"type":"rect","fill":"#ffffff","stroke":"#000000","strokeWidth":1},
 "encoding":{"x":{"field":"d","type":"temporal"},"x2":{"field":"d2"},"y":{"field":"v","type":"quantitative"},"y2":{"field":"v2"}}},
{"data":{"values":[{"d":"2007-02-23T21:00:00Z","v":31.06,"t":"VIX 2 Year Chart"}]},
 "mark":{"type":"text","font":"Liberation Sans","fontSize":19,"fontWeight":"bold","color":"#000000","align":"center","baseline":"middle"},
 "encoding":{"x":{"field":"d","type":"temporal"},"y":{"field":"v","type":"quantitative"},"text":{"field":"t"}}},
{"data":{"values":[{"d":"2008-01-31T07:00:00Z","v":18.82,"t":"Trendline"},{"d":"2008-01-31T07:00:00Z","v":17.71,"t":"Support"},{"d":"2008-01-31T07:00:00Z","v":16.64,"t":"Lost"}]},
 "mark":{"type":"text","font":"Liberation Sans","fontSize":12,"fontWeight":"bold","color":"#e8191e","align":"left","baseline":"middle"},
 "encoding":{"x":{"field":"d","type":"temporal"},"y":{"field":"v","type":"quantitative"},"text":{"field":"t"}}},
{"data":{"values":[{"d":"2008-02-02T05:00:00Z","v":15.38,"t":"Support on VIX at 16"}]},
 "mark":{"type":"text","font":"Liberation Sans","fontSize":11.5,"fontWeight":"bold","color":"#1a8a1a","align":"center","baseline":"middle"},
 "encoding":{"x":{"field":"d","type":"temporal"},"y":{"field":"v","type":"quantitative"},"text":{"field":"t"}}},
{"data":{"values":[{"d":"2007-06-04T22:00:00Z","v":11.48,"t":"If the VIX bounces here, it means the market"},{"d":"2007-06-04T22:00:00Z","v":10.78,"t":"will be moving lower.....obviously, support at 16"},{"d":"2007-06-04T22:00:00Z","v":10.11,"t":"could be lost...if you're a bull, that's what you"},{"d":"2007-06-04T22:00:00Z","v":9.49,"t":"want to see....until I see it, I'd be very cautious...."}]},
 "mark":{"type":"text","font":"Liberation Sans","fontSize":11.5,"fontWeight":"bold","color":"#1c1ce8","align":"left","baseline":"middle"},
 "encoding":{"x":{"field":"d","type":"temporal"},"y":{"field":"v","type":"quantitative"},"text":{"field":"t"}}},
{"data":{"values":[{"d":"2006-06-09T07:30:00Z","v":37.35,"t":"$VIX (Daily) 16.47"}]},
 "mark":{"type":"text","font":"DejaVu Sans","fontSize":10.5,"color":"#000000","align":"left","baseline":"middle"},
 "encoding":{"x":{"field":"d","type":"temporal"},"y":{"field":"v","type":"quantitative"},"text":{"field":"t"}}},
{"data":{"values":[{"d":"2006-05-28T19:00:00Z","v":37.35,"t":"₩"}]},
 "mark":{"type":"text","font":"DejaVu Sans","fontSize":9.5,"fontWeight":"bold","color":"#000000","align":"center","baseline":"middle"},
 "encoding":{"x":{"field":"d","type":"temporal"},"y":{"field":"v","type":"quantitative"},"text":{"field":"t"}}},
{"data":{"values":[{"d":"2006-05-25T00:00:00Z","d2":"2006-06-02T22:00:00Z","v":35.55}]},
 "mark":{"type":"rule","color":"#1c1c9c","strokeWidth":2},
 "encoding":{"x":{"field":"d","type":"temporal"},"x2":{"field":"d2"},"y":{"field":"v","type":"quantitative"}}},
{"data":{"values":[{"d":"2006-06-05T11:30:00Z","v":35.55,"t":"MA(50) 22.63"}]},
 "mark":{"type":"text","font":"DejaVu Sans","fontSize":9.5,"color":"#1c1c9c","align":"left","baseline":"middle"},
 "encoding":{"x":{"field":"d","type":"temporal"},"y":{"field":"v","type":"quantitative"},"text":{"field":"t"}}},
{"data":{"values":[{"d":"2006-05-03T05:30:00Z","v":41.22,"t":"$VIX"}]},
 "mark":{"type":"text","font":"Liberation Sans","fontSize":16,"fontWeight":"bold","color":"#000000","align":"left","baseline":"alphabetic"},
 "encoding":{"x":{"field":"d","type":"temporal"},"y":{"field":"v","type":"quantitative"},"text":{"field":"t"}}},
{"data":{"values":[{"d":"2006-06-20T19:40:00Z","v":41.4,"t":"(Volatility Index - New Methodology) INDX"},{"d":"2006-05-03T05:30:00Z","v":38.93,"t":"16-May-2008"}]},
 "mark":{"type":"text","font":"Liberation Sans","fontSize":11,"color":"#000000","align":"left","baseline":"alphabetic"},
 "encoding":{"x":{"field":"d","type":"temporal"},"y":{"field":"v","type":"quantitative"},"text":{"field":"t"}}},
{"data":{"values":[{"d":"2008-05-17T16:00:00Z","v":41.4,"t":"©StockCharts.com"}]},
 "mark":{"type":"text","font":"Liberation Sans","fontSize":10,"color":"#555555","align":"right","baseline":"alphabetic"},
 "encoding":{"x":{"field":"d","type":"temporal"},"y":{"field":"v","type":"quantitative"},"text":{"field":"t"}}},
{"data":{"values":[{"d":"2007-03-27T20:00:00Z","v":38.93,"t":"Open"},{"d":"2007-06-10T03:00:00Z","v":38.93,"t":"High"},{"d":"2007-08-18T16:20:00Z","v":38.93,"t":"Low"},{"d":"2007-10-24T04:00:00Z","v":38.93,"t":"Close"},{"d":"2008-01-08T21:00:00Z","v":38.93,"t":"Chg"}]},
 "mark":{"type":"text","font":"Liberation Sans","fontSize":11,"fontWeight":"bold","color":"#000000","align":"left","baseline":"alphabetic"},
 "encoding":{"x":{"field":"d","type":"temporal"},"y":{"field":"v","type":"quantitative"},"text":{"field":"t"}}},
{"data":{"values":[{"d":"2007-05-05T23:00:00Z","v":38.93,"t":"16.30"},{"d":"2007-07-14T12:30:00Z","v":38.93,"t":"17.92"},{"d":"2007-09-19T00:00:00Z","v":38.93,"t":"16.30"},{"d":"2007-12-04T17:20:00Z","v":38.93,"t":"16.47"},{"d":"2008-02-08T10:30:00Z","v":38.93,"t":"+0.17 (+1.04%)"}]},
 "mark":{"type":"text","font":"Liberation Sans","fontSize":10,"color":"#000000","align":"left","baseline":"alphabetic"},
 "encoding":{"x":{"field":"d","type":"temporal"},"y":{"field":"v","type":"quantitative"},"text":{"field":"t"}}},
{"data":{"values":[{"d":"2008-05-09T08:30:00Z","v":38.93,"t":"▲"}]},
 "mark":{"type":"text","font":"DejaVu Sans","fontSize":8,"color":"#1a9c1a","align":"left","baseline":"alphabetic"},
 "encoding":{"x":{"field":"d","type":"temporal"},"y":{"field":"v","type":"quantitative"},"text":{"field":"t"}}}
]
}
